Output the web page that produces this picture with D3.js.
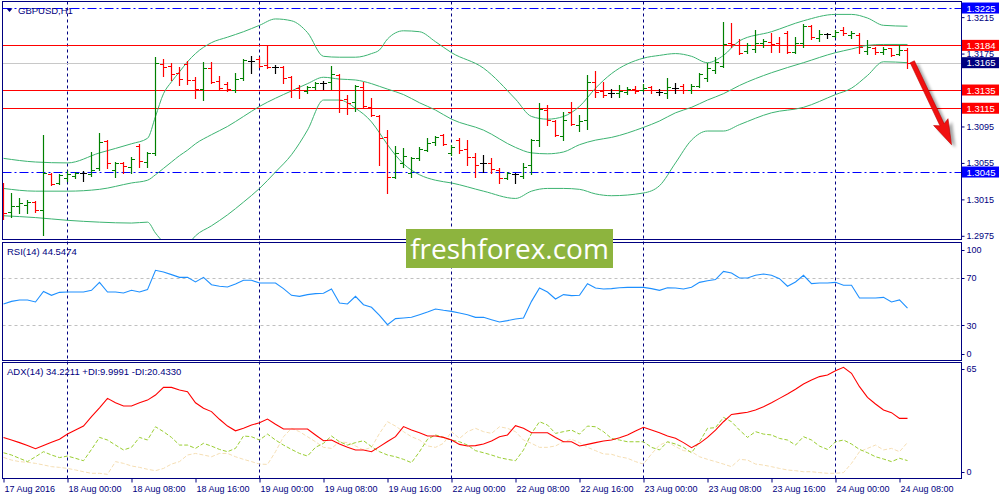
<!DOCTYPE html>
<html>
<head>
<meta charset="utf-8">
<script src="https://cdn.jsdelivr.net/npm/d3@7"></script>
<style>
  body { margin: 0; background: #ffffff; }
  svg text { font-family: "Liberation Sans", Arial, sans-serif; }
</style>
</head>
<body>
<div id="chart"></div>
<script>
// ---- data (17 Aug 16:00 .. 24 Aug 09:00) ----
var barOpen = [
  1.3032, 1.3001, 1.3008, 1.3009, 1.3012, 1.3003, 1.3043, 1.3033, 1.3038, 1.3041,
  1.3044, 1.3043, 1.3049, 1.3079, 1.3047, 1.3055, 1.3050, 1.3074, 1.3056, 1.3066,
  1.3164, 1.3161, 1.3154, 1.3164, 1.3146, 1.3136, 1.3159, 1.3145, 1.3142, 1.3135,
  1.3148, 1.3167, 1.3169, 1.3162, 1.3160, 1.3160, 1.3149, 1.3137, 1.3134, 1.3138,
  1.3143, 1.3144, 1.3151, 1.3125, 1.3122, 1.3138, 1.3116, 1.3106, 1.3083, 1.3040,
  1.3055, 1.3044, 1.3060, 1.3069, 1.3078, 1.3086, 1.3066, 1.3080, 1.3070, 1.3061,
  1.3055, 1.3055, 1.3047, 1.3038, 1.3043, 1.3041, 1.3053, 1.3080, 1.3113, 1.3101,
  1.3085, 1.3111, 1.3097, 1.3102, 1.3144, 1.3134, 1.3132, 1.3132, 1.3133, 1.3136,
  1.3135, 1.3138, 1.3133, 1.3132, 1.3137, 1.3139, 1.3135, 1.3139, 1.3148, 1.3157,
  1.3161, 1.3187, 1.3184, 1.3178, 1.3180, 1.3187, 1.3188, 1.3187, 1.3198, 1.3177,
  1.3187, 1.3205, 1.3192, 1.3196, 1.3194, 1.3201, 1.3195, 1.3195, 1.3178, 1.3181,
  1.3177, 1.3181, 1.3175, 1.3179
];
var barHigh = [
  1.3033, 1.3022, 1.3016, 1.3014, 1.3013, 1.3086, 1.3044, 1.3043, 1.3046, 1.3045,
  1.3046, 1.3067, 1.3088, 1.3080, 1.3056, 1.3056, 1.3061, 1.3076, 1.3067, 1.3171,
  1.3169, 1.3165, 1.3160, 1.3167, 1.3149, 1.3166, 1.3166, 1.3150, 1.3144, 1.3154,
  1.3169, 1.3172, 1.3171, 1.3184, 1.3162, 1.3161, 1.3150, 1.3140, 1.3139, 1.3144,
  1.3145, 1.3161, 1.3153, 1.3130, 1.3140, 1.3144, 1.3126, 1.3108, 1.3091, 1.3074,
  1.3071, 1.3061, 1.3072, 1.3082, 1.3085, 1.3087, 1.3075, 1.3082, 1.3080, 1.3066,
  1.3064, 1.3060, 1.3049, 1.3045, 1.3044, 1.3055, 1.3081, 1.3121, 1.3119, 1.3102,
  1.3111, 1.3122, 1.3108, 1.3151, 1.3156, 1.3144, 1.3136, 1.3140, 1.3138, 1.3139,
  1.3142, 1.3139, 1.3136, 1.3148, 1.3143, 1.3142, 1.3142, 1.3154, 1.3165, 1.3171,
  1.3210, 1.3209, 1.3191, 1.3187, 1.3201, 1.3191, 1.3198, 1.3193, 1.3200, 1.3193,
  1.3207, 1.3206, 1.3201, 1.3198, 1.3201, 1.3204, 1.3200, 1.3198, 1.3190, 1.3182,
  1.3182, 1.3181, 1.3184, 1.3181
];
var barLow = [
  1.2993, 1.2996, 1.3000, 1.3000, 1.3001, 1.2976, 1.3031, 1.3032, 1.3035, 1.3038,
  1.3035, 1.3041, 1.3047, 1.3049, 1.3040, 1.3044, 1.3044, 1.3050, 1.3050, 1.3064,
  1.3150, 1.3146, 1.3140, 1.3142, 1.3126, 1.3124, 1.3143, 1.3135, 1.3134, 1.3133,
  1.3146, 1.3154, 1.3160, 1.3159, 1.3154, 1.3143, 1.3127, 1.3126, 1.3132, 1.3136,
  1.3136, 1.3136, 1.3111, 1.3109, 1.3112, 1.3116, 1.3106, 1.3053, 1.3022, 1.3038,
  1.3050, 1.3040, 1.3058, 1.3068, 1.3075, 1.3075, 1.3064, 1.3066, 1.3053, 1.3040,
  1.3045, 1.3044, 1.3033, 1.3037, 1.3033, 1.3038, 1.3043, 1.3074, 1.3097, 1.3085,
  1.3080, 1.3097, 1.3090, 1.3092, 1.3127, 1.3127, 1.3127, 1.3127, 1.3131, 1.3132,
  1.3134, 1.3132, 1.3130, 1.3126, 1.3132, 1.3132, 1.3132, 1.3138, 1.3145, 1.3154,
  1.3160, 1.3182, 1.3175, 1.3176, 1.3177, 1.3182, 1.3177, 1.3177, 1.3176, 1.3176,
  1.3182, 1.3191, 1.3189, 1.3192, 1.3193, 1.3195, 1.3192, 1.3176, 1.3175, 1.3175,
  1.3175, 1.3172, 1.3173, 1.3159
];
var barClose = [
  1.3000, 1.3008, 1.3011, 1.3012, 1.3003, 1.3044, 1.3032, 1.3042, 1.3043, 1.3044,
  1.3044, 1.3047, 1.3078, 1.3055, 1.3055, 1.3052, 1.3059, 1.3057, 1.3066, 1.3165,
  1.3160, 1.3153, 1.3147, 1.3146, 1.3136, 1.3159, 1.3144, 1.3137, 1.3136, 1.3147,
  1.3168, 1.3167, 1.3161, 1.3160, 1.3160, 1.3148, 1.3135, 1.3135, 1.3138, 1.3143,
  1.3143, 1.3153, 1.3124, 1.3121, 1.3139, 1.3117, 1.3108, 1.3082, 1.3040, 1.3066,
  1.3063, 1.3060, 1.3070, 1.3077, 1.3083, 1.3076, 1.3072, 1.3069, 1.3061, 1.3053,
  1.3055, 1.3048, 1.3038, 1.3044, 1.3043, 1.3050, 1.3080, 1.3114, 1.3102, 1.3086,
  1.3102, 1.3098, 1.3101, 1.3144, 1.3133, 1.3130, 1.3132, 1.3134, 1.3136, 1.3134,
  1.3137, 1.3135, 1.3133, 1.3138, 1.3137, 1.3135, 1.3139, 1.3153, 1.3159, 1.3166,
  1.3185, 1.3185, 1.3176, 1.3184, 1.3187, 1.3189, 1.3185, 1.3184, 1.3177, 1.3187,
  1.3205, 1.3193, 1.3196, 1.3196, 1.3199, 1.3198, 1.3198, 1.3182, 1.3182, 1.3177,
  1.3180, 1.3173, 1.3179, 1.3165
];

// Bollinger bands (20) sampled at these bars
var bbIndex = [0, 4, 8, 12, 16, 18, 19, 20, 21, 22, 23, 24, 26, 28, 30, 32, 34, 36, 38, 40,
  42, 44, 46, 47, 48, 50, 52, 54, 56, 60, 64, 66, 68, 70, 72, 74, 76, 80, 82, 84,
  86, 88, 90, 92, 96, 100, 104, 106, 108, 110, 113];
var bbUpper = [1.3060, 1.3056, 1.3055, 1.3066, 1.3076, 1.3082, 1.3106, 1.3131, 1.3144, 1.3155,
  1.3166, 1.3175, 1.3187, 1.3193, 1.3199, 1.3206, 1.3213, 1.3211, 1.3198, 1.3172,
  1.3171, 1.3171, 1.3175, 1.3179, 1.3191, 1.3200, 1.3199, 1.3188, 1.3176, 1.3159,
  1.3125, 1.3106, 1.3103, 1.3106, 1.3117, 1.3137, 1.3153, 1.3170, 1.3173, 1.3175,
  1.3172, 1.3165, 1.3173, 1.3189, 1.3199, 1.3211, 1.3218, 1.3218, 1.3214, 1.3206, 1.3205];
var bbMiddle = [1.3027, 1.3024, 1.3024, 1.3026, 1.3033, 1.3036, 1.3042, 1.3049, 1.3056, 1.3063,
  1.3069, 1.3076, 1.3086, 1.3095, 1.3106, 1.3117, 1.3126, 1.3134, 1.3142, 1.3149,
  1.3147, 1.3146, 1.3142, 1.3139, 1.3136, 1.3130, 1.3121, 1.3113, 1.3103, 1.3091,
  1.3072, 1.3066, 1.3065, 1.3067, 1.3075, 1.3080, 1.3083, 1.3094, 1.3101, 1.3110,
  1.3116, 1.3124, 1.3131, 1.3140, 1.3154, 1.3165, 1.3176, 1.3180, 1.3184, 1.3185, 1.3185];
var bbLower = [1.2997, 1.2995, 1.2992, 1.2990, 1.2989, 1.2990, 1.2978, 1.2968, 1.2962, 1.2959,
  1.2965, 1.2975, 1.2986, 1.2998, 1.3012, 1.3027, 1.3045, 1.3064, 1.3091, 1.3124,
  1.3124, 1.3115, 1.3100, 1.3088, 1.3075, 1.3054, 1.3042, 1.3036, 1.3033, 1.3024,
  1.3016, 1.3024, 1.3027, 1.3027, 1.3026, 1.3021, 1.3019, 1.3022, 1.3030, 1.3055,
  1.3080, 1.3090, 1.3090, 1.3097, 1.3110, 1.3116, 1.3130, 1.3137, 1.3151, 1.3166, 1.3165];

var rsiValues = [
  47.9, 50.1, 51.3, 51.3, 49.6, 58.5, 55.2, 57.7, 58.0, 58.0,
  58.0, 59.4, 66.1, 58.0, 58.0, 57.1, 59.4, 58.0, 60.0, 76.2,
  74.8, 72.6, 70.3, 70.3, 66.4, 70.3, 64.1, 62.8, 62.2, 64.7,
  67.8, 67.8, 65.5, 65.5, 65.5, 60.8, 55.2, 54.3, 55.8, 56.6,
  56.9, 60.5, 48.7, 47.9, 54.3, 47.3, 45.1, 38.4, 30.5, 35.6,
  36.1, 36.7, 38.9, 41.2, 43.7, 42.6, 41.7, 40.3, 38.9, 36.7,
  36.7, 34.7, 32.8, 33.9, 35.3, 36.1, 50.1, 61.3, 58.0, 52.1,
  55.8, 54.9, 55.2, 65.0, 61.3, 60.5, 60.8, 61.6, 61.9, 61.9,
  61.9, 60.8, 59.4, 61.6, 61.3, 60.5, 61.9, 66.1, 67.5, 68.4,
  75.3, 74.0, 69.8, 69.8, 72.0, 73.1, 72.0, 69.2, 62.8, 66.4,
  72.0, 65.0, 65.5, 65.5, 66.1, 63.6, 63.6, 53.0, 53.0, 53.0,
  53.5, 49.6, 51.3, 44.5
];
var adxValues = [
  23.3, 21.8, 20.3, 18.7, 16.8, 18.7, 20.5, 22.2, 25.2, 27.5,
  29.8, 35.2, 40.3, 45.7, 43.2, 41.3, 41.3, 43.2, 44.7, 47.6,
  52.0, 52.0, 50.5, 49.5, 43.2, 40.0, 38.1, 33.7, 29.8, 27.1,
  28.5, 30.4, 31.7, 33.8, 30.8, 28.1, 28.1, 28.1, 28.1, 24.7,
  21.4, 21.8, 19.5, 17.6, 16.1, 16.1, 15.1, 18.0, 20.9, 23.7,
  29.5, 27.5, 26.0, 24.1, 24.1, 23.3, 21.8, 19.3, 18.4, 18.6,
  19.5, 21.2, 23.7, 24.7, 30.0, 28.5, 26.0, 26.0, 26.0, 23.3,
  20.8, 20.8, 18.4, 19.3, 20.3, 21.2, 21.8, 23.1, 24.7, 27.0,
  29.1, 27.5, 26.0, 24.1, 22.8, 20.3, 17.4, 19.9, 23.3, 27.5,
  32.3, 36.5, 37.1, 37.7, 39.0, 40.9, 43.2, 45.7, 48.2, 50.9,
  53.9, 56.2, 58.2, 59.1, 61.6, 63.5, 60.1, 52.4, 46.3, 42.5,
  39.0, 37.5, 34.2, 34.2
];
var plusDi = [
  14.5, 13.2, 11.3, 9.4, 12.2, 15.1, 13.2, 11.7, 12.6, 11.3,
  9.9, 16.4, 23.3, 21.8, 18.9, 16.1, 17.6, 23.3, 21.8, 29.4,
  26.6, 23.3, 18.9, 18.9, 17.0, 19.9, 18.3, 16.4, 15.1, 17.0,
  24.1, 23.7, 21.8, 25.2, 21.8, 18.9, 16.4, 14.1, 12.6, 17.6,
  19.9, 24.1, 20.8, 18.9, 20.3, 21.4, 18.0, 15.1, 13.2, 12.2,
  10.7, 8.8, 15.1, 22.2, 24.7, 23.3, 21.8, 20.8, 18.9, 15.7,
  14.5, 13.2, 11.7, 10.7, 9.9, 16.1, 25.6, 32.3, 30.4, 25.6,
  26.6, 27.5, 25.2, 29.8, 29.4, 26.6, 22.7, 21.8, 20.8, 20.8,
  20.8, 17.6, 16.1, 20.8, 19.5, 17.6, 14.5, 20.8, 28.5, 28.9,
  34.8, 32.3, 27.5, 23.3, 26.6, 25.2, 24.7, 22.7, 21.8, 18.9,
  23.7, 21.8, 18.3, 16.4, 20.8, 21.8, 19.5, 16.4, 14.5, 12.2,
  10.9, 9.4, 11.3, 10.0
];
var minusDi = [
  11.8, 10.3, 9.4, 9.0, 8.4, 7.5, 6.5, 6.1, 5.5, 4.6,
  3.6, 2.7, 2.7, 2.1, 9.4, 8.4, 6.9, 6.1, 5.0, 4.2,
  5.5, 8.0, 9.4, 13.2, 14.1, 13.2, 12.2, 14.1, 14.1, 12.2,
  10.7, 9.4, 8.0, 7.8, 15.1, 23.7, 28.5, 26.6, 23.7, 20.8,
  17.6, 17.0, 20.8, 20.3, 18.4, 16.1, 17.6, 25.6, 32.3, 29.8,
  26.6, 23.7, 21.8, 18.4, 17.6, 19.9, 26.6, 22.7, 26.6, 28.5,
  26.6, 25.6, 29.4, 28.5, 26.6, 21.8, 19.9, 17.6, 17.6, 18.4,
  20.8, 22.2, 20.3, 17.6, 15.7, 13.8, 13.6, 12.2, 11.3, 9.4,
  8.0, 13.8, 18.9, 20.8, 18.0, 15.7, 15.1, 12.2, 10.7, 9.4,
  8.0, 6.5, 10.7, 10.3, 8.0, 7.4, 6.5, 5.5, 4.6, 4.2,
  3.6, 3.6, 3.1, 2.7, 2.7, 3.1, 8.4, 15.1, 17.0, 18.9,
  16.1, 17.0, 15.1, 20.4
];

var timeLabelBars = [0, 8, 16, 24, 32, 40, 48, 56, 64, 72, 80, 88, 96, 104, 112];
var timeLabels = ["17 Aug 2016", "18 Aug 00:00", "18 Aug 08:00", "18 Aug 16:00", "19 Aug 00:00",
  "19 Aug 08:00", "19 Aug 16:00", "22 Aug 00:00", "22 Aug 08:00", "22 Aug 16:00",
  "23 Aug 00:00", "23 Aug 08:00", "23 Aug 16:00", "24 Aug 00:00", "24 Aug 08:00"];
var daySeparatorBars = [8, 32, 56, 80, 104];

var priceTicks = [1.3215, 1.3175, 1.3135, 1.3095, 1.3055, 1.3015, 1.2975];
var blueLevels = [1.3225, 1.3045];
var redLevels = [1.3184, 1.3135, 1.3115];
var bidPrice = 1.3165;
var forecastArrow = [[113.6, 1.3166], [118.5, 1.3075]];

// ---- layout ----
var svgWidth = 1000;
var svgHeight = 500;
var plotLeft = 2.5, plotRight = 961.5;
var mainPanel = { top: 1.5, bottom: 239.5 };
var rsiPanel = { top: 242.5, bottom: 360.5 };
var adxPanel = { top: 362.5, bottom: 478.5 };
var navy = "#000080";

var svg = d3.select("#chart")
  .append("svg")
  .attr("width", svgWidth)
  .attr("height", svgHeight);

var xScale = d3.scaleLinear().domain([0, 113]).range([3.5, 907.5]);
var yPrice = d3.scaleLinear().domain([1.29704, 1.32316]).range([240, 2]);
var yRsi = d3.scaleLinear().domain([0, 100]).range([361, 242]);
var yAdx = d3.scaleLinear().domain([0, 66]).range([478, 363]);

function crisp(v) { return Math.round(v) + 0.5; }

var defs = svg.append("defs");
[["clip-main", mainPanel], ["clip-rsi", rsiPanel], ["clip-adx", adxPanel]].forEach(function(c) {
  defs.append("clipPath").attr("id", c[0])
    .append("rect")
    .attr("x", plotLeft).attr("y", c[1].top)
    .attr("width", plotRight - plotLeft).attr("height", c[1].bottom - c[1].top);
});
defs.append("filter").attr("id", "soft")
  .append("feGaussianBlur").attr("stdDeviation", 1.6);

// day separators through all panels
svg.append("g").selectAll("line")
  .data(daySeparatorBars)
  .enter()
  .append("line")
  .attr("x1", d => xScale(d)).attr("x2", d => xScale(d))
  .attr("y1", mainPanel.top).attr("y2", adxPanel.bottom)
  .attr("stroke", navy)
  .attr("stroke-dasharray", "3,3");

// ---- main panel ----
var mainGroup = svg.append("g").attr("clip-path", "url(#clip-main)");

mainGroup.append("line")
  .attr("x1", plotLeft).attr("x2", plotRight)
  .attr("y1", crisp(yPrice(bidPrice))).attr("y2", crisp(yPrice(bidPrice)))
  .attr("stroke", "#c8c8c8");

mainGroup.selectAll(".red-level")
  .data(redLevels)
  .enter()
  .append("line")
  .attr("x1", plotLeft).attr("x2", plotRight)
  .attr("y1", d => crisp(yPrice(d))).attr("y2", d => crisp(yPrice(d)))
  .attr("stroke", "#ff0000")
  .attr("stroke-width", 1.2);

mainGroup.selectAll(".blue-level")
  .data(blueLevels)
  .enter()
  .append("line")
  .attr("x1", plotLeft).attr("x2", plotRight)
  .attr("y1", d => crisp(yPrice(d))).attr("y2", d => crisp(yPrice(d)))
  .attr("stroke", "#0000ff")
  .attr("stroke-width", 1.2)
  .attr("stroke-dasharray", "9,3,2,3");

// bollinger bands
[bbUpper, bbMiddle, bbLower].forEach(function(band) {
  var bandLine = d3.line()
    .x((d, i) => xScale(bbIndex[i]))
    .y(d => yPrice(d))
    .curve(d3.curveMonotoneX);
  mainGroup.append("path")
    .attr("d", bandLine(band))
    .attr("fill", "none")
    .attr("stroke", "#3cb371")
    .attr("stroke-width", 1);
});

// OHLC bars
barClose.forEach(function(c, i) {
  var o = barOpen[i];
  var color = c > o ? "#008000" : (c < o ? "#ff0000" : "#000000");
  var x = xScale(i);
  var yo = crisp(yPrice(o)), yc = crisp(yPrice(c));
  mainGroup.append("path")
    .attr("d", "M" + x + "," + Math.round(yPrice(barHigh[i])) + "V" + (Math.round(yPrice(barLow[i])) + 1) +
      "M" + (x - 3.5) + "," + yo + "H" + x +
      "M" + x + "," + yc + "H" + (x + 3.5))
    .attr("fill", "none")
    .attr("stroke", color)
    .attr("stroke-width", 1.2);
});

// forecast arrow
var a0 = [xScale(forecastArrow[0][0]), yPrice(forecastArrow[0][1])];
var a1 = [xScale(forecastArrow[1][0]), yPrice(forecastArrow[1][1])];
var len = Math.hypot(a1[0] - a0[0], a1[1] - a0[1]);
var ux = (a1[0] - a0[0]) / len, uy = (a1[1] - a0[1]) / len;
var nx = -uy, ny = ux;
var headLen = 22, headHalf = 8, shaftHalf = 2.3;
var hb = [a1[0] - ux * headLen, a1[1] - uy * headLen];
var arrowPts = [
  [a0[0] + nx * shaftHalf, a0[1] + ny * shaftHalf],
  [hb[0] + nx * shaftHalf, hb[1] + ny * shaftHalf],
  [hb[0] + nx * headHalf - ux * 3, hb[1] + ny * headHalf - uy * 3],
  a1,
  [hb[0] - nx * headHalf - ux * 3, hb[1] - ny * headHalf - uy * 3],
  [hb[0] - nx * shaftHalf, hb[1] - ny * shaftHalf],
  [a0[0] - nx * shaftHalf, a0[1] - ny * shaftHalf]
];
var arrowPath = "M" + arrowPts.map(p => p[0].toFixed(1) + "," + p[1].toFixed(1)).join("L") + "Z";
svg.append("path")
  .attr("d", arrowPath)
  .attr("transform", "translate(4,3)")
  .attr("fill", "#000")
  .attr("opacity", 0.35)
  .attr("filter", "url(#soft)");
svg.append("path")
  .attr("d", arrowPath)
  .attr("fill", "#f01010")
  .attr("stroke", "#c00000")
  .attr("stroke-width", 0.6);

// ---- RSI panel ----
var rsiGroup = svg.append("g").attr("clip-path", "url(#clip-rsi)");
rsiGroup.selectAll(".rsi-level")
  .data([70, 30])
  .enter()
  .append("line")
  .attr("x1", plotLeft).attr("x2", plotRight)
  .attr("y1", d => crisp(yRsi(d))).attr("y2", d => crisp(yRsi(d)))
  .attr("stroke", "#c0c0c0")
  .attr("stroke-dasharray", "3,3");

var rsiLine = d3.line()
  .x((d, i) => xScale(i))
  .y(d => yRsi(d));
rsiGroup.append("path")
  .attr("d", rsiLine(rsiValues))
  .attr("fill", "none")
  .attr("stroke", "#1e90ff")
  .attr("stroke-width", 1.1);

// ---- ADX panel ----
var adxGroup = svg.append("g").attr("clip-path", "url(#clip-adx)");
var adxLine = d3.line()
  .x((d, i) => xScale(i))
  .y(d => yAdx(d));
adxGroup.append("path")
  .attr("d", adxLine(minusDi))
  .attr("fill", "none")
  .attr("stroke", "#f5deb3")
  .attr("stroke-dasharray", "4,2");
adxGroup.append("path")
  .attr("d", adxLine(plusDi))
  .attr("fill", "none")
  .attr("stroke", "#9acd32")
  .attr("stroke-dasharray", "4,2");
adxGroup.append("path")
  .attr("d", adxLine(adxValues))
  .attr("fill", "none")
  .attr("stroke", "#ff0000")
  .attr("stroke-width", 1.1);

// ---- frames ----
[mainPanel, rsiPanel, adxPanel].forEach(function(p) {
  svg.append("rect")
    .attr("x", plotLeft).attr("y", p.top)
    .attr("width", plotRight - plotLeft).attr("height", p.bottom - p.top)
    .attr("fill", "none")
    .attr("stroke", navy);
});

// ---- price axis ----
var priceAxis = d3.axisRight(yPrice)
  .tickValues(priceTicks)
  .tickSize(3)
  .tickPadding(2)
  .tickFormat(d3.format(".4f"));
var priceAxisG = svg.append("g")
  .attr("transform", `translate(${plotRight}, 0)`)
  .call(priceAxis);
priceAxisG.select(".domain").remove();
priceAxisG.selectAll("line").attr("stroke", navy);
priceAxisG.selectAll("text").attr("fill", navy).style("font-size", "9px");

function levelBox(value, color) {
  var y = yPrice(value);
  svg.append("rect")
    .attr("x", plotRight + 0.5).attr("y", y - 5.5)
    .attr("width", 37).attr("height", 11)
    .attr("fill", color);
  svg.append("text")
    .attr("x", plotRight + 5).attr("y", y + 3.5)
    .attr("fill", "#ffffff")
    .style("font-size", "9.5px")
    .text(d3.format(".4f")(value));
}
blueLevels.forEach(v => levelBox(v, "#0000ff"));
redLevels.forEach(v => levelBox(v, "#ff0000"));
levelBox(bidPrice, navy);

// ---- RSI and ADX scales on the right ----
function sideLabel(y, label) {
  svg.append("line")
    .attr("x1", plotRight).attr("x2", plotRight + 3)
    .attr("y1", crisp(y)).attr("y2", crisp(y))
    .attr("stroke", navy);
  svg.append("text")
    .attr("x", plotRight + 5).attr("y", y + 3.2)
    .attr("fill", navy)
    .style("font-size", "9px")
    .text(label);
}
sideLabel(yRsi(100) + 8, "100");
sideLabel(yRsi(70), "70");
sideLabel(yRsi(30), "30");
sideLabel(yRsi(0) - 7.5, "0");
sideLabel(yAdx(65) + 4.5, "65");
sideLabel(yAdx(0) - 6, "0");

// ---- time axis ----
var timeAxis = d3.axisBottom(xScale)
  .tickValues(timeLabelBars)
  .tickSize(4)
  .tickPadding(3)
  .tickFormat((d, i) => timeLabels[i]);
var timeAxisG = svg.append("g")
  .attr("transform", `translate(0, ${adxPanel.bottom})`)
  .call(timeAxis);
timeAxisG.select(".domain").remove();
timeAxisG.selectAll("line").attr("stroke", navy);
timeAxisG.selectAll("text")
  .attr("fill", navy)
  .attr("text-anchor", "start")
  .attr("x", 0.5)
  .style("font-size", "9px");

// ---- panel captions ----
svg.append("path")
  .attr("d", "M6.5,8.5 L12.5,8.5 L9.5,12 Z")
  .attr("fill", navy);
svg.append("text")
  .attr("x", 18).attr("y", 14)
  .attr("fill", navy)
  .style("font-size", "9.5px")
  .text("GBPUSD,H1");
svg.append("text")
  .attr("x", 7).attr("y", 254.5)
  .attr("fill", navy)
  .style("font-size", "9.5px")
  .text("RSI(14) 44.5474");
svg.append("text")
  .attr("x", 7).attr("y", 375)
  .attr("fill", navy)
  .style("font-size", "9.5px")
  .text("ADX(14) 34.2211 +DI:9.9991 -DI:20.4330");

// ---- watermark ----
svg.append("rect")
  .attr("x", 406).attr("y", 229)
  .attr("width", 207).attr("height", 39)
  .attr("fill", "#8db43e");
svg.append("text")
  .attr("x", 509.5).attr("y", 259)
  .attr("text-anchor", "middle")
  .attr("fill", "#ffffff")
  .style("font-family", "'Open Sans', sans-serif")
  .style("font-size", "28px")
  .text("freshforex.com");
</script>
</body>
</html>
